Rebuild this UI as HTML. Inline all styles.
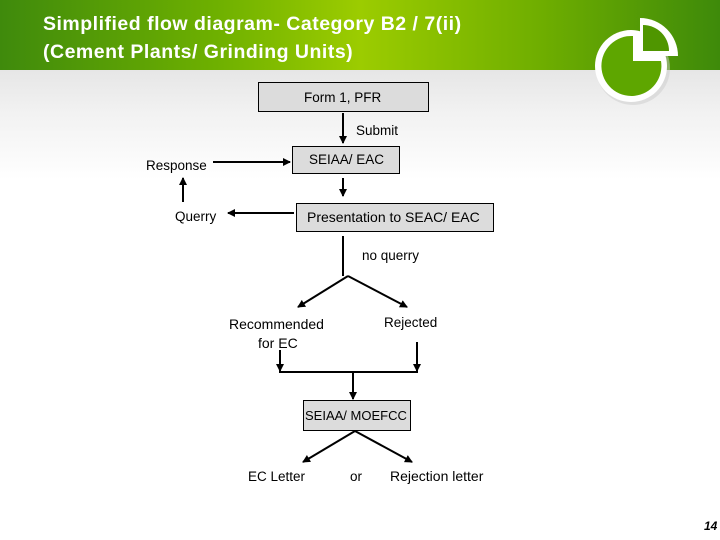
<!DOCTYPE html>
<html><head><meta charset="utf-8"><style>
html,body{margin:0;padding:0}
body{width:720px;height:540px;position:relative;overflow:hidden;background:#fff;font-family:"Liberation Sans",sans-serif}
.hdr{position:absolute;left:0;top:0;width:720px;height:70px;background:linear-gradient(90deg,#3f8a0c 0%,#6eb000 30%,#9ccc00 50%,#6fae00 75%,#3e8a0a 100%)}
.bg{position:absolute;left:0;top:70px;width:720px;height:110px;background:linear-gradient(#e6e6e6,#f2f2f2 40%,#fff)}
.t{position:absolute;left:43px;top:10px;color:#fff;font-size:19.5px;line-height:28px;font-weight:bold;letter-spacing:0.5px}
svg{position:absolute;left:0;top:0}
text{font-family:"Liberation Sans",sans-serif;font-size:13.5px;fill:#000}
</style></head><body>
<div class="hdr"></div><div class="bg"></div>
<div class="t">Simplified flow diagram- Category B2 / 7(ii)<br>(Cement Plants/ Grinding Units)</div>
<svg width="720" height="540">
<defs><marker id="a" markerWidth="8" markerHeight="8" refX="7" refY="4" orient="auto" markerUnits="userSpaceOnUse"><path d="M0,0 L8,4 L0,8z" fill="#000"/></marker></defs>
<!-- logo -->
<circle cx="633" cy="68" r="37" fill="#ccc" opacity="0.5"/>
<circle cx="631" cy="66" r="36" fill="#fff"/>
<path d="M633,61 L633,36 A30,30 0 1 0 661,61 Z" fill="#5ea600"/>
<path d="M640,56 L640,18 A38,38 0 0 1 678,56 Z" fill="#fff"/>
<path d="M643,51 L643,25 A26,26 0 0 1 669,51 Z" fill="#4f9600"/>
<g stroke="#000" stroke-width="1" fill="#dcdcdc">
<rect x="258.5" y="82.5" width="170" height="29"/>
<rect x="292.5" y="146.5" width="107" height="27"/>
<rect x="296.5" y="203.5" width="197" height="28"/>
<rect x="303.5" y="400.5" width="107" height="30"/>
</g>
<g stroke="#000" stroke-width="2" fill="none" marker-end="url(#a)">
<line x1="343" y1="113" x2="343" y2="143"/>
<line x1="213" y1="162" x2="290" y2="162"/>
<line x1="183" y1="202" x2="183" y2="178"/>
<line x1="343" y1="178" x2="343" y2="196"/>
<line x1="294" y1="213" x2="228" y2="213"/>
<line x1="348" y1="276" x2="298" y2="307"/>
<line x1="348" y1="276" x2="407" y2="307"/>
<line x1="280" y1="350" x2="280" y2="371"/>
<line x1="417" y1="342" x2="417" y2="371"/>
<line x1="353" y1="372" x2="353" y2="399"/>
<line x1="355" y1="431" x2="303" y2="462"/>
<line x1="355" y1="431" x2="412" y2="462"/>
</g>
<g stroke="#000" stroke-width="2">
<line x1="343" y1="236" x2="343" y2="276"/>
<line x1="279" y1="372" x2="418" y2="372"/>
</g>
<text x="304" y="102">Form 1, PFR</text>
<text x="356" y="135">Submit</text>
<text x="309" y="164">SEIAA/ EAC</text>
<text x="146" y="170">Response</text>
<text x="175" y="221">Querry</text>
<text x="307" y="222" style="font-size:14px">Presentation to SEAC/ EAC</text>
<text x="362" y="260">no querry</text>
<text x="229" y="329" style="font-size:14px">Recommended</text>
<text x="258" y="348" style="font-size:14px">for EC</text>
<text x="384" y="327">Rejected</text>
<text x="305" y="420" style="font-size:13px">SEIAA/ MOEFCC</text>
<text x="248" y="481">EC Letter</text>
<text x="350" y="481">or</text>
<text x="390" y="481" style="font-size:14px">Rejection letter</text>
<text x="704" y="530" style="font-weight:bold;font-style:italic;font-size:12px">14</text>
</svg>
</body></html>
